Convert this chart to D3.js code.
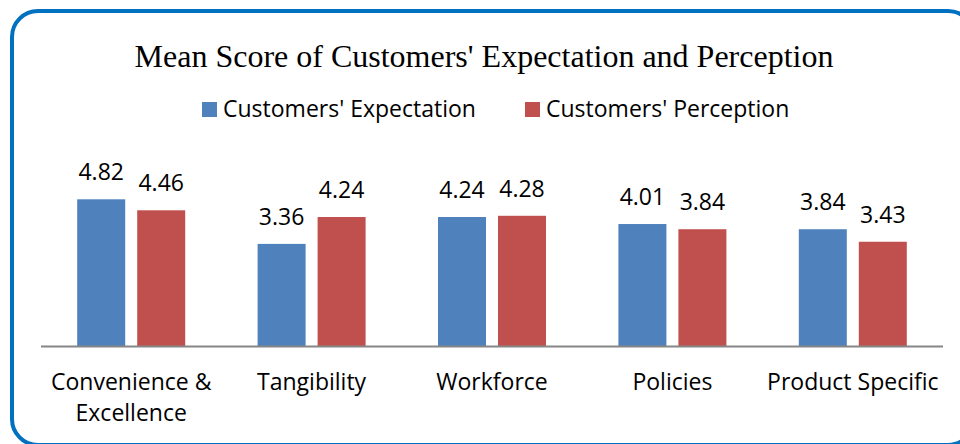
<!DOCTYPE html>
<html>
<head>
<meta charset="utf-8">
<script src="https://cdn.jsdelivr.net/npm/d3@7"></script>
<style>
  body { margin: 0; background: #fff; }
  svg { display: block; }
  .valText, .catText, .legText { font-family: "Open Sans", "Noto Sans", sans-serif; font-size: 23px; fill: #000; }
  .title { font-family: "Liberation Serif", "Times New Roman", serif; font-size: 32px; fill: #000; }
</style>
</head>
<body>
<div id="chart"></div>
<script>
// data
var categories = ["Convenience & Excellence", "Tangibility", "Workforce", "Policies", "Product Specific"];
var catLines = [["Convenience &", "Excellence"], ["Tangibility"], ["Workforce"], ["Policies"], ["Product Specific"]];
var seriesNames = ["Customers' Expectation", "Customers' Perception"];
var expectation = [4.82, 3.36, 4.24, 4.01, 3.84];
var perception = [4.46, 4.24, 4.28, 3.84, 3.43];
var colors = ["#4F81BD", "#C0504D"];

var svgWidth = 960, svgHeight = 444;

var svg = d3.select("#chart")
  .append("svg")
  .attr("width", svgWidth)
  .attr("height", svgHeight);

// outer rounded frame (partly off the page on right/bottom)
svg.append("rect")
  .attr("x", 12).attr("y", 11)
  .attr("width", 962).attr("height", 434)
  .attr("rx", 26).attr("ry", 26)
  .attr("fill", "none")
  .attr("stroke", "#0070C0")
  .attr("stroke-width", 4);

// title
svg.append("text")
  .attr("class", "title")
  .attr("x", 484).attr("y", 67)
  .attr("text-anchor", "middle")
  .text("Mean Score of Customers' Expectation and Perception");

// legend
var legendX = [202, 525];
seriesNames.forEach(function (name, i) {
  svg.append("rect")
    .attr("x", legendX[i]).attr("y", 102)
    .attr("width", 15).attr("height", 15)
    .attr("fill", colors[i]);
  svg.append("text")
    .attr("class", "legText")
    .attr("x", legendX[i] + 21).attr("y", 117)
    .text(name);
});

// scales
var baseY = 346.5;
var x0 = d3.scaleBand()
  .domain(categories)
  .range([41, 943]);

var yScale = d3.scaleLinear()
  .domain([0, 5])
  .range([baseY, baseY - 152.7]);

var data = categories.map(function (c, i) {
  return { cat: c, lines: catLines[i], values: [expectation[i], perception[i]] };
});

var barW = 48, barGap = 12;

var groups = svg.selectAll(".cat")
  .data(data)
  .enter()
  .append("g")
  .attr("class", "cat")
  .attr("transform", d => `translate(${x0(d.cat) + x0.bandwidth() / 2}, 0)`);

groups.each(function (d) {
  var g = d3.select(this);
  d.values.forEach(function (v, i) {
    var bx = i === 0 ? -barGap / 2 - barW : barGap / 2;
    g.append("rect")
      .attr("x", bx)
      .attr("y", yScale(v))
      .attr("width", barW)
      .attr("height", baseY - yScale(v))
      .attr("fill", colors[i]);
    g.append("text")
      .attr("class", "valText")
      .attr("x", bx + barW / 2)
      .attr("y", yScale(v) - 19)
      .attr("text-anchor", "middle")
      .text(v.toFixed(2));
  });
  d.lines.forEach(function (line, k) {
    g.append("text")
      .attr("class", "catText")
      .attr("x", 0)
      .attr("y", 390 + k * 31)
      .attr("text-anchor", "middle")
      .text(line);
  });
});

// baseline axis
svg.append("line")
  .attr("x1", 41).attr("x2", 943)
  .attr("y1", baseY).attr("y2", baseY)
  .attr("stroke", "#868686")
  .attr("stroke-width", 2);
</script>
</body>
</html>
